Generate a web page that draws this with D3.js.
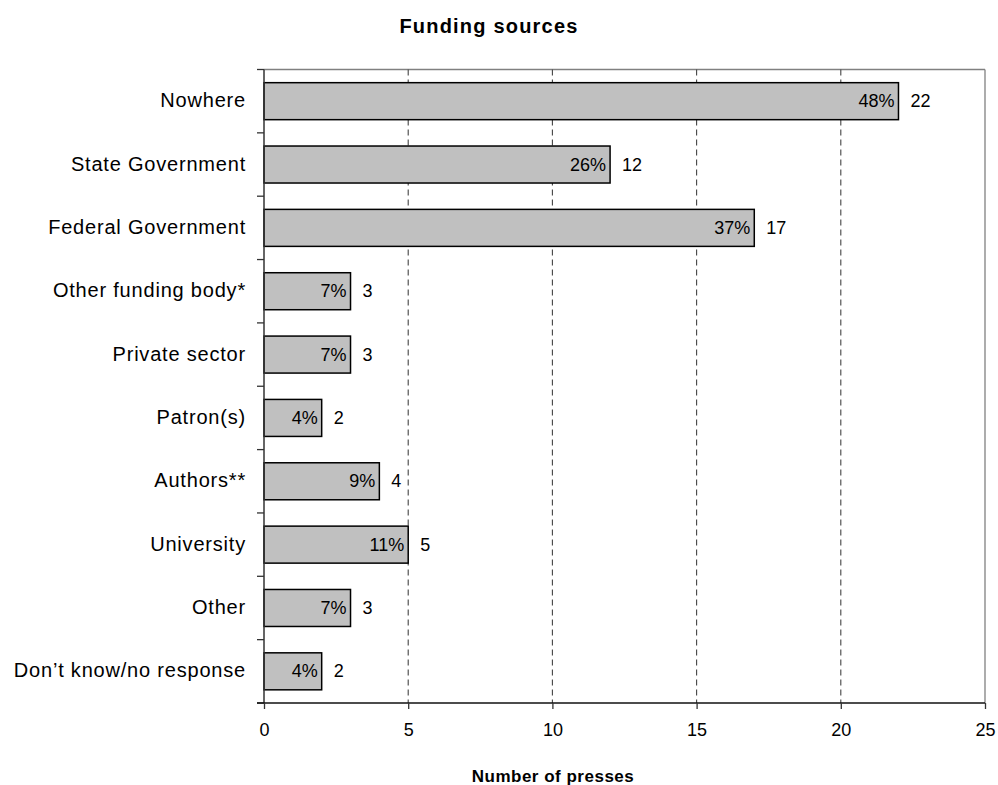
<!DOCTYPE html>
<html>
<head>
<meta charset="utf-8">
<script src="https://cdn.jsdelivr.net/npm/d3@7/dist/d3.min.js"></script>
<style>
  html, body { margin: 0; padding: 0; background: #fff; }
  svg text { font-family: Arial, "Liberation Sans", sans-serif; fill: #000; }
</style>
</head>
<body>
<svg id="chart" width="998" height="785"></svg>
<script>
// Funding sources reported by presses
const categories = [
  "Nowhere",
  "State Government",
  "Federal Government",
  "Other funding body*",
  "Private sector",
  "Patron(s)",
  "Authors**",
  "University",
  "Other",
  "Don\u2019t know/no response"
];
const counts   = [22, 12, 17, 3, 3, 2, 4, 5, 3, 2];
const percents = ["48%", "26%", "37%", "7%", "7%", "4%", "9%", "11%", "7%", "4%"];
const xTicks   = [0, 5, 10, 15, 20, 25];
const chartTitle = "Funding sources";
const xTitle = "Number of presses";

const svg = d3.select("#chart");
const plotLeft = 264, plotRight = 985, plotTop = 69.5, plotBottom = 703;

const x = d3.scaleLinear().domain([0, 25]).range([plotLeft, plotRight]);
const pad = 0.416;
const y = d3.scaleBand().domain(categories).range([plotTop, plotBottom])
  .paddingInner(pad).paddingOuter(pad / 2);

// plot frame: grey top and right edges
svg.append("line").attr("x1", plotLeft).attr("x2", plotRight).attr("y1", plotTop).attr("y2", plotTop)
  .attr("stroke", "#808080").attr("stroke-width", 1.3);
svg.append("line").attr("x1", plotRight).attr("x2", plotRight).attr("y1", plotTop).attr("y2", plotBottom)
  .attr("stroke", "#808080").attr("stroke-width", 1.3);

// dashed vertical gridlines
svg.append("g").selectAll("line")
  .data(xTicks.filter(t => t > 0 && t < 25))
  .join("line")
  .attr("x1", d => x(d)).attr("x2", d => x(d))
  .attr("y1", plotTop).attr("y2", plotBottom)
  .attr("stroke", "#444").attr("stroke-width", 1.1)
  .attr("stroke-dasharray", "6,4");

// bars
svg.append("g").selectAll("rect")
  .data(categories)
  .join("rect")
  .attr("x", x(0))
  .attr("y", d => y(d))
  .attr("width", (d, i) => x(counts[i]) - x(0))
  .attr("height", y.bandwidth())
  .attr("fill", "#c0c0c0")
  .attr("stroke", "#000")
  .attr("stroke-width", 1.5);

// percentage labels inside bar ends
svg.append("g").selectAll("text")
  .data(categories)
  .join("text")
  .attr("x", (d, i) => x(counts[i]) - 4)
  .attr("y", d => y(d) + y.bandwidth() / 2 + 6)
  .attr("text-anchor", "end")
  .style("font-size", "18px")
  .text((d, i) => percents[i]);

// count labels after the bars
svg.append("g").selectAll("text")
  .data(categories)
  .join("text")
  .attr("x", (d, i) => x(counts[i]) + 12)
  .attr("y", d => y(d) + y.bandwidth() / 2 + 6)
  .attr("text-anchor", "start")
  .style("font-size", "18px")
  .text((d, i) => counts[i]);

// left axis: ticks sit on band boundaries
const yAxis = svg.append("g");
yAxis.append("line").attr("x1", plotLeft).attr("x2", plotLeft).attr("y1", plotTop).attr("y2", plotBottom)
  .attr("stroke", "#333").attr("stroke-width", 1.5);
const bounds = d3.range(categories.length + 1).map(i => plotTop + i * y.step());
yAxis.selectAll(".tk").data(bounds).join("line")
  .attr("x1", plotLeft - 7).attr("x2", plotLeft).attr("y1", d => d).attr("y2", d => d)
  .attr("stroke", "#333").attr("stroke-width", 1.3);
yAxis.selectAll("text").data(categories).join("text")
  .attr("x", 246)
  .attr("y", d => y(d) + y.bandwidth() / 2 + 6)
  .attr("text-anchor", "end")
  .style("font-size", "20px")
  .style("letter-spacing", "0.8px")
  .text(d => d);

// bottom axis
const xAxis = svg.append("g").attr("transform", `translate(0,${plotBottom})`)
  .call(d3.axisBottom(x).tickValues(xTicks).tickSize(6).tickPadding(14).tickSizeOuter(0));
xAxis.select(".domain").attr("stroke", "#111").attr("stroke-width", 1.5)
  .attr("d", `M${plotLeft - 7},0H${plotRight}`);
xAxis.selectAll(".tick line").attr("stroke", "#333").attr("stroke-width", 1.3);
xAxis.selectAll(".tick text").style("font-size", "18px")
  .style("font-family", "Arial, 'Liberation Sans', sans-serif").attr("fill", "#000");

// titles
svg.append("text").attr("x", 489).attr("y", 33).attr("text-anchor", "middle")
  .style("font-size", "20px").style("font-weight", "bold").style("letter-spacing", "1.2px")
  .text(chartTitle);
svg.append("text").attr("x", 553).attr("y", 782).attr("text-anchor", "middle")
  .style("font-size", "17px").style("font-weight", "bold").style("letter-spacing", "0.5px")
  .text(xTitle);
</script>
</body>
</html>
